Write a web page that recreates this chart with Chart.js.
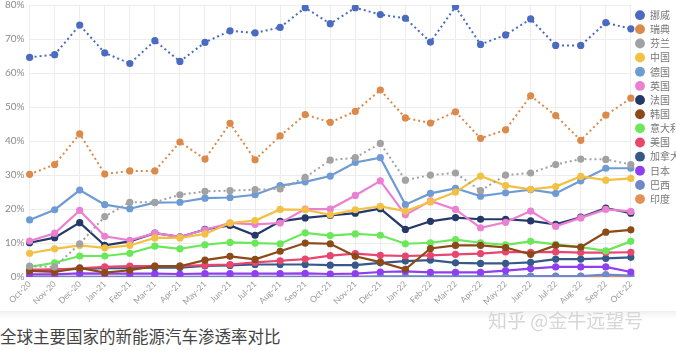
<!DOCTYPE html>
<html>
<head>
<meta charset="utf-8">
<script src="https://cdn.jsdelivr.net/npm/chart.js@4.4.0/dist/chart.umd.min.js"></script>
<style>
    html, body { margin: 0; padding: 0; background: #fff; overflow: hidden; }
    #wrap { position: relative; width: 676px; height: 350px; overflow: hidden; }
    #box { position: absolute; left: 0; top: -6px; width: 690px; height: 315px; }
    #shade { position: absolute; left: 0; top: 311px; width: 676px; height: 8px;
        background: linear-gradient(#f0f0f0, #ffffff); }
    #caption { position: absolute; left: 0; top: 324px; font: 16.5px "Noto Sans CJK SC", sans-serif;
        color: #444; }
    #mark { position: absolute; left: 488px; top: 306px; font: 19px "Noto Sans CJK SC", sans-serif;
        color: #d6d6d6; }
</style>
</head>
<body>
<div id="wrap">
    <div id="box"><canvas id="chart"></canvas></div>
    <div id="shade"></div>
    <div id="mark">知乎 @金牛远望号</div>
    <div id="caption">全球主要国家的新能源汽车渗透率对比</div>
</div>
<script>
const months = ["Oct-20", "Nov-20", "Dec-20", "Jan-21", "Feb-21", "Mar-21", "Apr-21", "May-21", "Jun-21",
    "Jul-21", "Aug-21", "Sep-21", "Oct-21", "Nov-21", "Dec-21", "Jan-22", "Feb-22", "Mar-22", "Apr-22",
    "May-22", "Jun-22", "Jul-22", "Aug-22", "Sep-22", "Oct-22"];

const norway = [64.6, 65.4, 74.1, 65.9, 62.8, 69.5, 63.4, 69.0, 72.4, 71.8, 73.4, 79.2, 74.5, 79.2, 77.2,
    76.1, 69.1, 79.5, 68.4, 71.2, 75.9, 68.1, 68.1, 74.8, 73.0];
const sweden = [30.2, 33.1, 42.1, 30.3, 31.2, 31.2, 39.7, 34.7, 45.2, 34.5, 41.5, 47.8, 45.5, 48.7, 55.0,
    46.8, 45.3, 48.6, 40.8, 43.3, 53.3, 47.5, 40.2, 47.6, 52.6];
const finland = [3.2, 3.0, 9.8, 17.8, 22.0, 22.0, 24.2, 25.2, 25.4, 25.7, 25.9, 29.3, 34.4, 35.1, 39.3,
    28.5, 30.0, 30.6, 25.4, 30.0, 30.6, 33.1, 34.7, 34.6, 33.1];
const china = [7.0, 8.3, 9.3, 8.6, 9.3, 11.5, 11.5, 12.7, 15.9, 16.6, 19.9, 19.8, 18.3, 19.8, 20.8,
    19.4, 22.1, 25.0, 29.7, 26.9, 25.8, 26.6, 29.6, 28.5, 29.0];
const germany = [16.8, 19.8, 25.6, 21.3, 20.1, 21.9, 22.0, 23.2, 23.4, 24.2, 26.9, 28.0, 29.7, 33.7, 35.1,
    21.3, 24.6, 26.1, 23.8, 24.8, 25.7, 24.6, 28.3, 32.0, 32.0];
const uk = [10.6, 12.9, 19.6, 12.0, 10.8, 12.9, 11.8, 13.9, 15.9, 15.5, 15.9, 20.0, 20.0, 24.0, 28.3,
    18.3, 22.4, 19.9, 14.5, 16.1, 19.4, 14.9, 17.4, 19.9, 19.3];
const france = [10.1, 11.6, 16.0, 9.3, 10.5, 12.9, 11.8, 14.0, 15.2, 12.3, 16.4, 17.4, 18.1, 18.8, 20.1,
    14.0, 16.4, 17.5, 17.0, 17.0, 16.5, 15.5, 17.6, 20.3, 18.8];
const korea = [1.8, 1.5, 2.7, 1.3, 2.0, 3.2, 3.2, 5.0, 6.1, 5.2, 7.6, 10.0, 9.8, 6.1, 4.4,
    2.3, 8.4, 9.3, 9.3, 8.7, 6.7, 9.3, 8.8, 13.2, 13.9];
const italy = [3.0, 4.2, 6.2, 6.2, 7.0, 9.1, 8.3, 9.5, 10.2, 10.0, 9.8, 13.0, 12.2, 12.7, 12.3,
    9.8, 10.1, 11.0, 10.1, 9.5, 10.5, 9.6, 8.8, 7.7, 10.5];
const usa = [2.2, 2.2, 2.6, 3.0, 3.2, 3.2, 3.2, 3.5, 3.7, 4.3, 4.8, 5.3, 6.3, 6.9, 6.4,
    6.2, 6.4, 6.7, 6.9, 7.4, 7.3, 7.4, 7.2, 7.2, 7.3];
const canada = [2.0, 2.2, 2.4, 2.6, 2.6, 2.8, 2.8, 3.3, 3.4, 3.7, 3.7, 3.7, 3.5, 3.5, 4.2,
    4.7, 5.0, 4.2, 4.0, 4.0, 4.3, 5.3, 5.3, 5.5, 5.8];
const japan = [0.8, 0.8, 1.1, 1.0, 1.0, 1.0, 0.9, 1.0, 1.0, 1.0, 1.0, 1.1, 0.9, 1.0, 1.5,
    1.7, 1.4, 1.4, 1.4, 1.9, 2.5, 3.0, 3.0, 3.0, 1.5];
const brazil = [0.1, 0.1, 0.1, 0.1, 0.1, 0.1, 0.1, 0.1, 0.1, 0.1, 0.1, 0.1, 0.1, 0.1, 0.2,
    0.2, 0.2, 0.2, 0.2, 0.2, 0.3, 0.3, 0.3, 0.7, 0.4];
const india = [0.1, 0.1, 0.1, 0.1, 0.1, 0.1, 0.1, 0.1, 0.1, 0.1, 0.1, 0.1, 0.1, 0.1, 0.1,
    0.1, 0.1, 0.1, 0.1, 0.1, 0.2, 0.2, 0.2, 0.3, 0.3];

const yTicks = [0, 10, 20, 30, 40, 50, 60, 70, 80];

function series(label, data, color, dotted) {
    return {
        label,
        data,
        borderColor: color,
        backgroundColor: color,
        borderWidth: dotted ? 2 : 2.2,
        borderDash: dotted ? [2, 3] : [],
        pointRadius: 3.6,
        pointHoverRadius: 4,
        pointBorderWidth: 0,
        tension: 0,
        fill: false,
    };
}

new Chart(document.getElementById("chart"), {
    type: "line",
    data: {
        labels: months,
        datasets: [
            series("挪威", norway, "#4a6bbf", true),
            series("瑞典", sweden, "#dc8a4b", true),
            series("芬兰", finland, "#a2a2a2", true),
            series("中国", china, "#f2c143", false),
            series("德国", germany, "#6e9bd3", false),
            series("英国", uk, "#eb7fd2", false),
            series("法国", france, "#24396a", false),
            series("韩国", korea, "#8b4a18", false),
            series("意大利", italy, "#6ae85a", false),
            series("美国", usa, "#e8466f", false),
            series("加拿大", canada, "#36598a", false),
            series("日本", japan, "#8f3ff0", false),
            series("巴西", brazil, "#7088c9", false),
            series("印度", india, "#e59055", false),
        ],
    },
    options: {
        maintainAspectRatio: false,
        animation: false,
        plugins: {
            legend: {
                position: "right",
                align: "start",
                title: { display: true, text: " ", font: { size: 10 }, padding: 0 },
                labels: {
                    usePointStyle: true,
                    boxHeight: 7,
                    boxWidth: 10,
                    padding: 4.15,
                    color: "#777",
                    font: { size: 10, family: "'Noto Sans CJK SC', sans-serif" },
                },
            },
            tooltip: { enabled: false },
        },
        scales: {
            x: {
                grid: { color: "#ededed", drawTicks: false },
                border: { display: false },
                ticks: {
                    color: "#9a9a9a",
                    font: { size: 8.5, family: "Lato" },
                    minRotation: 45,
                    maxRotation: 45,
                    autoSkip: false,
                    padding: 2,
                },
            },
            y: {
                min: 0,
                max: 80,
                afterBuildTicks: (axis) => {
                    axis.ticks = yTicks.map((v) => ({ value: v }));
                },
                grid: { color: "#ededed", drawTicks: false },
                border: { display: false },
                ticks: {
                    color: "#8a8a8a",
                    font: { size: 10, family: "Lato" },
                    padding: 5,
                    callback: (v) => `${v}%`,
                },
            },
        },
    },
});
</script>
</body>
</html>
